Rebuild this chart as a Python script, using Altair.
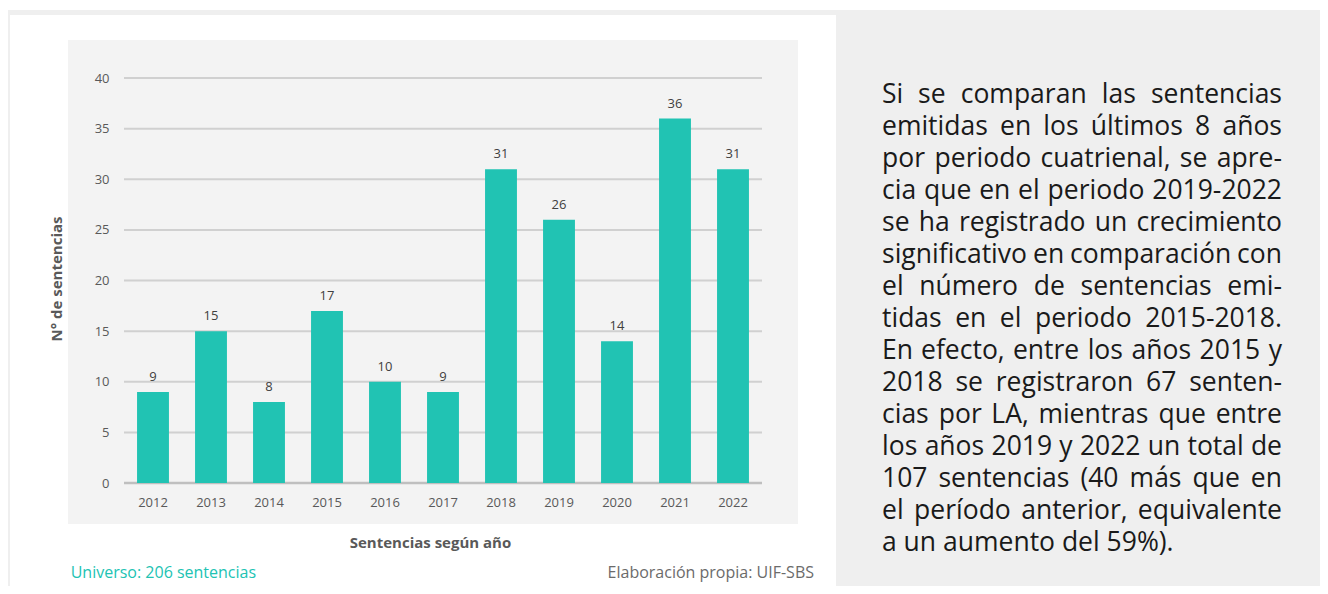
import altair as alt
import pandas as pd

# ---------------- data ----------------
years = ["2012", "2013", "2014", "2015", "2016", "2017", "2018", "2019", "2020", "2021", "2022"]
counts = [9, 15, 8, 17, 10, 9, 31, 26, 14, 36, 31]
y_ticks = [0, 5, 10, 15, 20, 25, 30, 35, 40]

x_title = "Sentencias según año"
y_title = "N° de sentencias"
note_left = "Universo: 206 sentencias"
note_right = "Elaboración propia: UIF-SBS"

text_lines = [
    "Si se comparan las sentencias",
    "emitidas en los últimos 8 años",
    "por periodo cuatrienal, se apre-",
    "cia que en el periodo 2019-2022",
    "se ha registrado un crecimiento",
    "significativo en comparación con",
    "el número de sentencias emi-",
    "tidas en el periodo 2015-2018.",
    "En efecto, entre los años 2015 y",
    "2018 se registraron 67 senten-",
    "cias por LA, mientras que entre",
    "los años 2019 y 2022 un total de",
    "107 sentencias (40 más que en",
    "el período anterior, equivalente",
    "a un aumento del 59%).",
]

# ---------------- layout ----------------
W, H = 638, 405
TEAL = "#21c3b3"
GRAY_BG = "#efefef"
PLOT_BG = "#f3f3f3"
LABEL = "#595959"
FONT = "Open Sans"

# approximate Open Sans advance widths (units per em = 2048), used to justify the side text
ADV = {" ": 532, "%": 1675, "(": 608, ")": 608, ",": 502, "-": 659, ".": 545,
       "A": 1296, "E": 1124, "L": 1028, "S": 1098,
       "a": 1139, "b": 1255, "c": 975, "d": 1255, "e": 1149, "f": 694, "g": 1122,
       "h": 1257, "i": 518, "l": 518, "m": 1905, "n": 1257, "o": 1237, "p": 1255,
       "q": 1255, "r": 836, "s": 977, "t": 723, "u": 1257, "v": 1026, "y": 1028,
       "ú": 1257, "á": 1139, "ó": 1237, "í": 518, "ñ": 1257}
for d in "0123456789":
    ADV[d] = 1171

FS = 26.5
TX0, TX1 = 758, 1158
LINE0, LSTEP = 24.7, 32


def wwidth(w):
    return sum(ADV.get(c, 1150) for c in w) * FS / 2048


rows = []
for i, line in enumerate(text_lines):
    yb = LINE0 + LSTEP * i
    words = line.split(" ")
    if i == len(text_lines) - 1:
        rows.append({"w": line, "x": TX0, "y": yb, "pos": "first"})
        continue
    ws = [wwidth(w) for w in words]
    gap = (TX1 - TX0 - sum(ws)) / (len(words) - 1)
    cur = TX0
    for j, (w, wd) in enumerate(zip(words, ws)):
        if j == 0:
            rows.append({"w": w, "x": TX0, "y": yb, "pos": "first"})
        elif j == len(words) - 1:
            rows.append({"w": w, "x": TX1, "y": yb, "pos": "last"})
        else:
            rows.append({"w": w, "x": cur + wd / 2, "y": yb, "pos": "mid"})
        cur += wd + gap
words_df = pd.DataFrame(rows)

df = pd.DataFrame({"year": years, "n": counts})
one = pd.DataFrame({"k": [0]})

xscale = alt.Scale(paddingInner=0.45, paddingOuter=0.225)
yscale = alt.Scale(domain=[0, 40], nice=False)
yaxis = alt.Axis(values=y_ticks, grid=False, domain=False, ticks=False, title=None,
                 labelFont=FONT, labelFontSize=13, labelColor=LABEL, labelPadding=15, zindex=1)
xaxis = alt.Axis(grid=False, domain=False, ticks=False, title=None, labelAngle=0,
                 labelFont=FONT, labelFontSize=13, labelColor=LABEL, labelPadding=13, zindex=1)


def rect(x1, x2, y1, y2, color):
    return alt.Chart(one).mark_rect(color=color).encode(
        x=alt.value(x1), x2=alt.value(x2), y=alt.value(y1), y2=alt.value(y2))


def label(txt, x, y, **kw):
    return alt.Chart(pd.DataFrame({"t": [txt]})).mark_text(font=FONT, **kw).encode(
        x=alt.value(x), y=alt.value(y), text="t:N")


bg = [
    rect(-116, 712, -68, -63, GRAY_BG),
    rect(-116, -114, -68, 520, GRAY_BG),
    rect(712, 1200, -68, 520, GRAY_BG),
    rect(-56, 674, -38, 446, PLOT_BG),
]

grid = alt.Chart(pd.DataFrame({"v": y_ticks[1:]})).mark_rule(color="#d0d0d0", strokeWidth=2).encode(
    y=alt.Y("v:Q", scale=yscale, axis=yaxis))
base = alt.Chart(pd.DataFrame({"v": [0]})).mark_rule(color="#bfbfbf", strokeWidth=2.6).encode(
    y=alt.Y("v:Q", scale=yscale, axis=yaxis))

bars = alt.Chart(df).mark_bar(color=TEAL).encode(
    x=alt.X("year:N", scale=xscale, axis=xaxis, sort=None),
    y=alt.Y("n:Q", scale=yscale, axis=yaxis))
vals = alt.Chart(df).mark_text(font=FONT, fontSize=13, color="#404040", baseline="alphabetic", dy=-11).encode(
    x=alt.X("year:N", scale=xscale, axis=xaxis, sort=None),
    y=alt.Y("n:Q", scale=yscale, axis=yaxis),
    text="n:Q")

titles = [
    label(x_title, 306.5, 470.3, fontSize=15, fontWeight="bold", color=LABEL, align="center", baseline="alphabetic"),
    label(y_title, -62.3, 201, fontSize=15, fontWeight="bold", color=LABEL, align="center", baseline="alphabetic", angle=270),
    label(note_left, -53.3, 500.3, fontSize=16, color=TEAL, align="left", baseline="alphabetic"),
    label(note_right, 690, 500.3, fontSize=16, color="#6b6b6b", align="right", baseline="alphabetic"),
]

side = []
for pos, al in [("first", "left"), ("mid", "center"), ("last", "right")]:
    side.append(alt.Chart(words_df[words_df["pos"] == pos]).mark_text(
        font=FONT, fontSize=FS, color="#1a1a1a", align=al, baseline="alphabetic").encode(
        x=alt.X("x:Q", scale=None), y=alt.Y("y:Q", scale=None), text="w:N"))

chart = alt.layer(*bg, grid, base, bars, vals, *titles, *side).properties(
    width=W, height=H,
    autosize=alt.AutoSizeParams(type="none"),
    padding={"left": 116, "top": 70, "right": 558, "bottom": 103},
    background="white",
).configure_view(strokeWidth=0)

chart.save("out.html", embed_options={"renderer": "svg", "actions": False})
